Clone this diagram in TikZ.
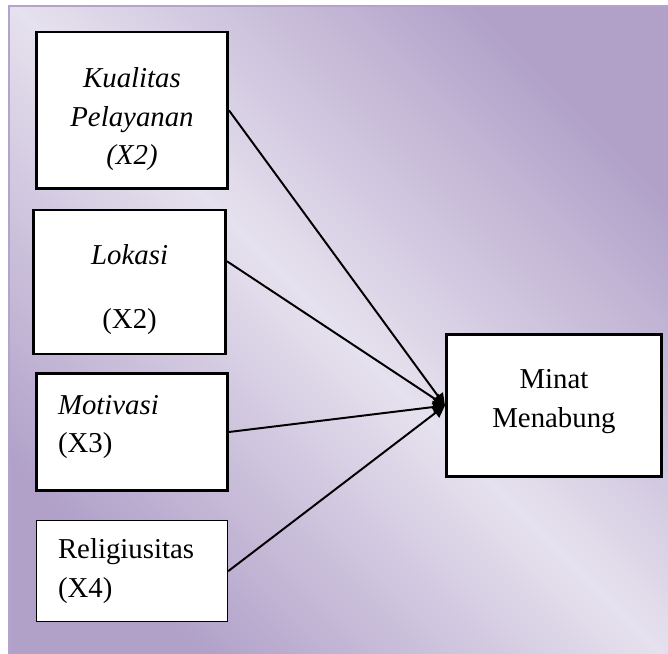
\documentclass[tikz,border=0pt]{standalone}
\usepackage{fontspec}
\setmainfont{Liberation Serif}
\usepackage{xcolor}
\usepackage{tikz}
\usetikzlibrary{arrows.meta,positioning}
\definecolor{lavenderDark}{HTML}{B1A1C9}
\definecolor{lavenderLight}{HTML}{E6E1EE}
\definecolor{lavenderEdge}{HTML}{B3A3CD}

\begin{document}
\begin{tikzpicture}[
        varbox/.style={draw=black, line width=2pt, fill=white, rectangle, align=center, font=\fontsize{20.5}{27.4}\selectfont},
        thinbox/.style={varbox, line width=0.8pt},
        rel/.style={-{Triangle[length=3mm,width=3mm]}, line width=1.4pt}
    ]
        \useasboundingbox (0,0) rectangle (16.7,-16.35);
        \path[left color=lavenderDark, right color=lavenderDark, middle color=lavenderLight, shading angle=135]
            (0.225,-0.15) rectangle (16.7,-16.35);
        \draw[lavenderEdge, line width=1pt] (16.7,-0.15) -- (0.225,-0.15) -- (0.225,-16.35);

        \node[varbox, minimum width=4.78cm, minimum height=3.92cm] (kualitas) at (3.30,-2.76) {
            \rule{0pt}{27pt}\textit{Kualitas}\\\textit{Pelayanan}\\\textit{(X2)}
        };
        \node[varbox, minimum width=4.8cm, minimum height=3.6cm] (lokasi) at (3.24,-7.05) {
            \rule{0pt}{25.5pt}\textit{Lokasi}\\[18pt](X2)
        };
        \node[varbox, minimum width=4.78cm, minimum height=2.94cm, text width=3.7cm, align=left] (motivasi) at (3.30,-10.80) {
            \textit{Motivasi}\\(X3)\rule[-11.5pt]{0pt}{11.5pt}
        };
        \node[thinbox, minimum width=4.78cm, minimum height=2.52cm, text width=3.7cm, align=left] (religiusitas) at (3.30,-14.28) {
            Religiusitas\\(X4)
        };
        \node[varbox, minimum width=5.38cm, minimum height=3.56cm] (minat) at (13.85,-10.14) {
            Minat\\Menabung\rule[-10pt]{0pt}{10pt}
        };

        \draw[rel] (kualitas.east) -- (minat.west);
        \draw[rel] (lokasi.12) -- (minat.west);
        \draw[rel] (motivasi.east) -- (minat.west);
        \draw[rel] (religiusitas.east) -- (minat.west);
    \end{tikzpicture}
\end{document}
